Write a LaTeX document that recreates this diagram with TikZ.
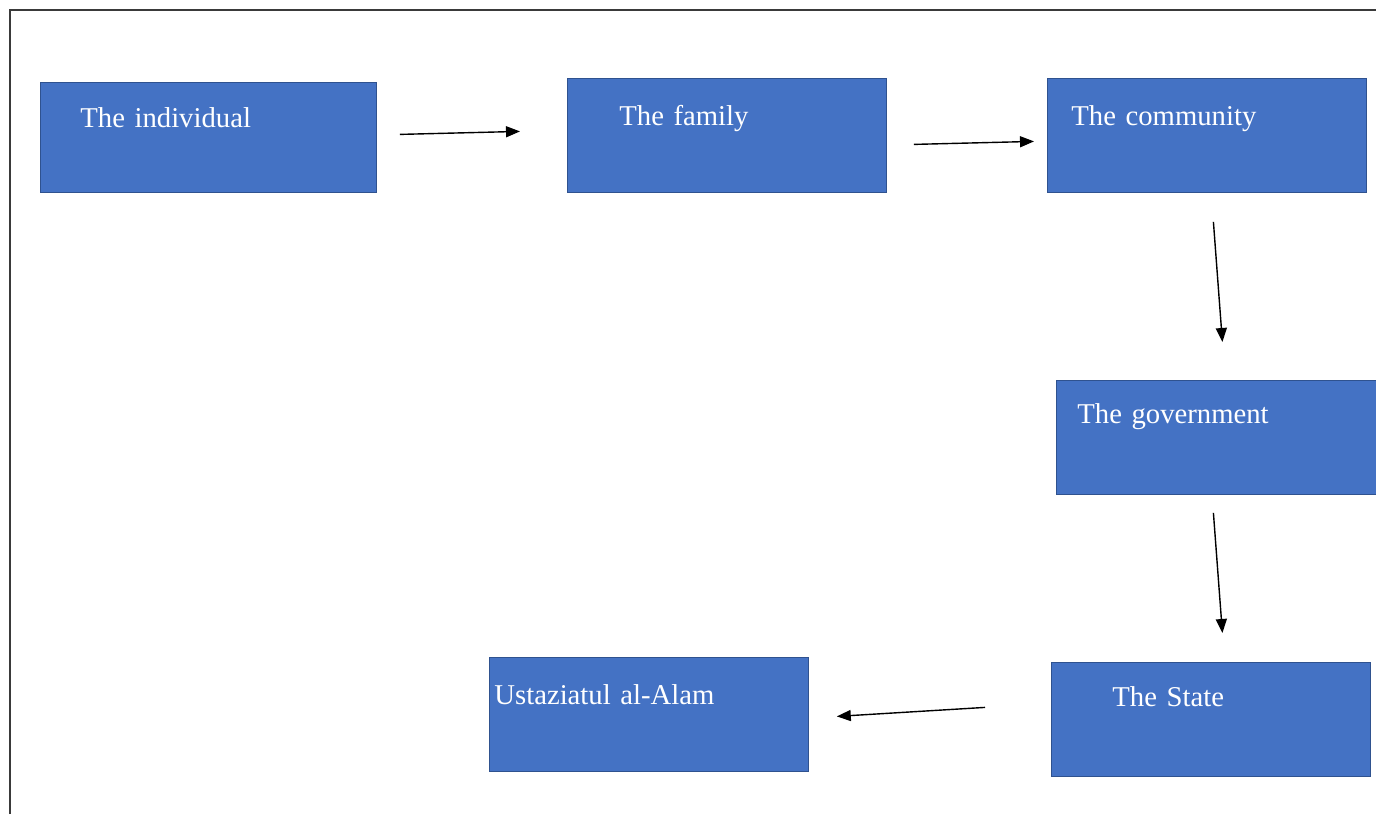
\documentclass[tikz,border=0pt]{standalone}
\usepackage{fontspec}
\setmainfont{Liberation Serif}
\usepackage{tikz}
\usetikzlibrary{arrows.meta, positioning, calc}
\definecolor{boxblue}{HTML}{4472C4}
\definecolor{boxedge}{HTML}{2F528F}
\definecolor{framegray}{HTML}{3A3A3A}

\begin{document}
\begin{tikzpicture}[
  x=1pt, y=-1pt,
  box/.style={fill=boxblue, draw=boxedge, line width=0.8pt,
              anchor=north west, inner ysep=0pt, align=left,
              text=white, font=\fontsize{28.7}{34}\selectfont},
  arr/.style={-{Triangle[length=14pt, width=11pt]}, line width=1.4pt, color=black}
]
  \useasboundingbox (0,0) rectangle (1376,814);
  \draw[framegray, line width=1.6pt] (10,814) -- (10,10) -- (1376,10);

  \node[box, inner xsep=40pt, text width=256pt, text height=45pt, text depth=65pt] (individual) at (40,82) {The individual};
  \node[box, inner xsep=52pt, text width=215pt, text height=47pt, text depth=67pt] (family) at (567,78) {The family};
  \node[box, inner xsep=24pt, text width=271pt, text height=47pt, text depth=67pt] (community) at (1047,78) {The community};
  \node[box, inner xsep=21pt, text width=278pt, text height=43pt, text depth=71pt] (government) at (1056,380) {The government};
  \node[box, inner xsep=61pt, text width=197pt, text height=44pt, text depth=70pt] (state) at (1051,662) {The State};
  \node[box, inner xsep=5pt, text width=309pt, text height=47pt, text depth=67pt] (alam) at (489,657) {Ustaziatul al-Alam};

  % arrow ends sit a little off the boxes
  \coordinate (a1) at ($(individual.east)+(23,-3)$);
  \coordinate (b1) at ($(family.west)+(-47,-4)$);
  \coordinate (a2) at ($(family.east)+(27,9)$);
  \coordinate (b2) at ($(community.west)+(-13,6)$);
  \coordinate (a3) at ($(community.south)+(6.5,29)$);
  \coordinate (b3) at ($(government.north)+(6,-38)$);
  \coordinate (a4) at ($(government.south)+(-3,18)$);
  \coordinate (b4) at ($(state.north)+(11.5,-29)$);
  \coordinate (a5) at ($(state.west)+(-66,-12)$);
  \coordinate (b5) at ($(alam.east)+(28,2)$);

  \draw[arr] (a1) -- (b1);
  \draw[arr] (a2) -- (b2);
  \draw[arr] (a3) -- (b3);
  \draw[arr] (a4) -- (b4);
  \draw[arr] (a5) -- (b5);
\end{tikzpicture}
\end{document}
